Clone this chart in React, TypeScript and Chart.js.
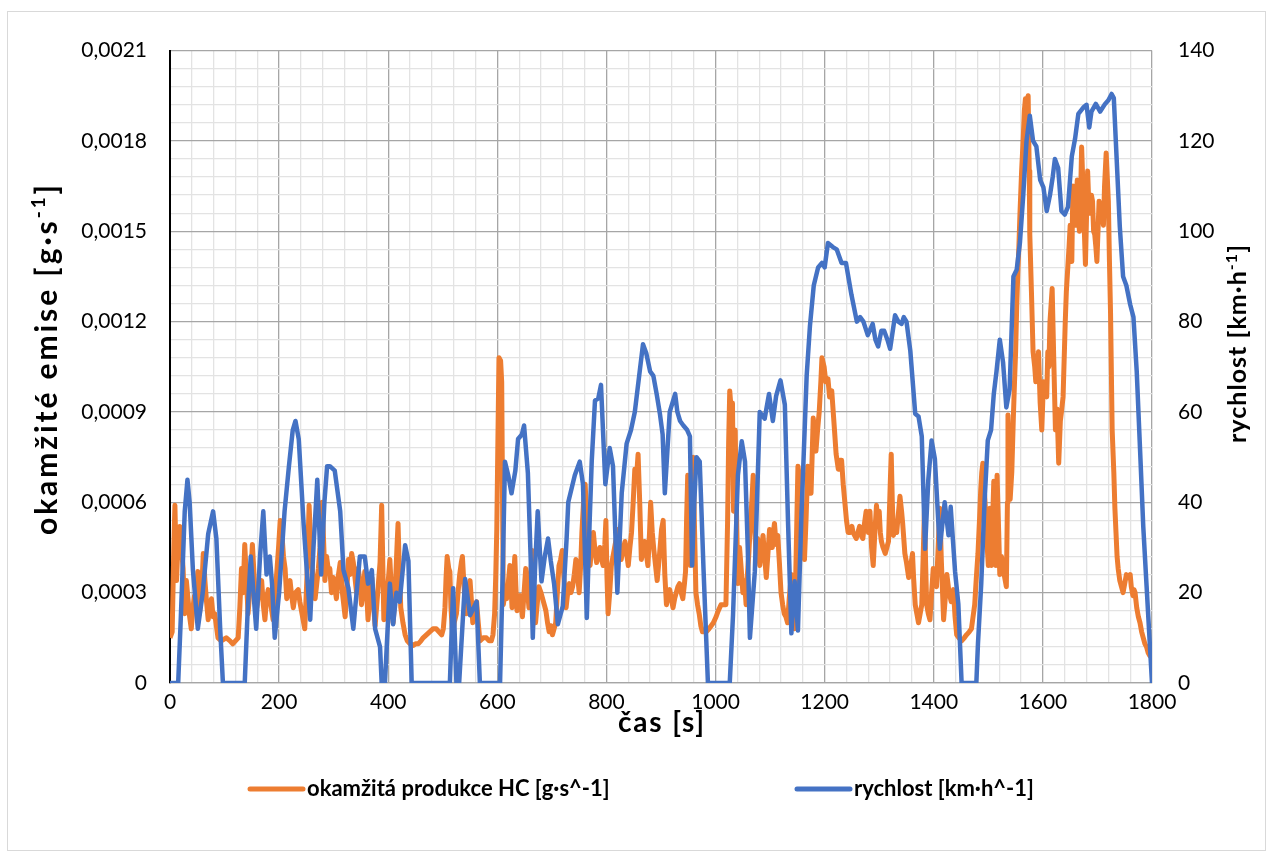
import React, { useEffect, useRef } from "react";
import { Chart, registerables } from "chart.js";

Chart.register(...registerables);

// ---------- data ----------
const hcTime = [
  0, 4, 7, 9, 12, 15, 18, 21, 24, 27, 30, 33, 36, 39, 42, 45, 48, 51, 54, 58, 61, 64, 67, 70, 73, 76, 79, 82, 85, 88,
  94, 103, 110, 115, 120, 125, 128, 131, 134, 137, 140, 143, 147, 151, 155, 159, 163, 168, 171, 174, 177, 180, 184, 189,
  192, 195, 199, 202, 205, 208, 211, 214, 217, 220, 223, 226, 230, 235, 238, 241, 244, 247, 251, 255, 257, 259, 262, 266,
  269, 272, 275, 279, 282, 284, 287, 290, 293, 296, 299, 302, 305, 308, 312, 316, 321, 324, 327, 330, 333, 336, 339, 342,
  345, 348, 351, 354, 357, 360, 363, 366, 370, 373, 376, 379, 382, 385, 388, 390, 392, 395, 398, 401, 403, 406, 409, 412,
  414, 416, 418, 420, 423, 427, 431, 435, 440, 446, 450, 455, 460, 464, 470, 476, 482, 488, 493, 498, 501, 504, 506, 508,
  511, 513, 515, 518, 521, 525, 528, 531, 534, 536, 539, 543, 546, 550, 553, 555, 558, 562, 565, 568, 574, 580, 585, 589,
  592, 595, 597, 599, 601, 603, 606, 608, 610, 611, 614, 617, 620, 623, 625, 627, 630, 632, 634, 636, 639, 642, 644, 646,
  649, 652, 655, 658, 661, 664, 667, 670, 673, 676, 680, 683, 686, 689, 692, 695, 698, 701, 704, 707, 710, 713, 716, 719,
  722, 726, 729, 732, 735, 738, 741, 744, 747, 750, 753, 755, 758, 761, 763, 765, 768, 770, 773, 776, 779, 782, 785, 788,
  791, 794, 797, 799, 801, 803, 806, 809, 812, 815, 818, 821, 824, 827, 830, 834, 837, 840, 843, 846, 849, 852, 855, 858,
  861, 864, 867, 870, 873, 876, 879, 881, 884, 887, 890, 893, 897, 901, 904, 907, 910, 913, 916, 919, 922, 925, 928, 931,
  934, 937, 940, 943, 945, 947, 949, 952, 954, 957, 959, 961, 964, 967, 970, 973, 976, 983, 988, 992, 996, 1001, 1005,
  1010, 1015, 1019, 1022, 1024, 1026, 1029, 1031, 1033, 1036, 1038, 1041, 1044, 1047, 1050, 1053, 1056, 1058, 1061, 1063,
  1065, 1067, 1069, 1071, 1074, 1077, 1081, 1084, 1087, 1090, 1093, 1096, 1099, 1102, 1104, 1106, 1108, 1111, 1114, 1117,
  1120, 1123, 1126, 1129, 1132, 1135, 1139, 1142, 1145, 1148, 1151, 1154, 1157, 1160, 1163, 1166, 1169, 1172, 1175, 1177,
  1179, 1182, 1184, 1187, 1190, 1193, 1195, 1199, 1202, 1206, 1209, 1213, 1218, 1221, 1225, 1228, 1231, 1234, 1237, 1240,
  1243, 1247, 1250, 1252, 1255, 1258, 1261, 1264, 1267, 1270, 1273, 1276, 1280, 1283, 1286, 1289, 1292, 1295, 1298, 1300,
  1302, 1304, 1307, 1311, 1314, 1317, 1320, 1322, 1324, 1326, 1329, 1332, 1335, 1338, 1341, 1343, 1345, 1347, 1350, 1354,
  1357, 1361, 1363, 1366, 1369, 1372, 1375, 1378, 1381, 1383, 1385, 1387, 1390, 1393, 1396, 1399, 1402, 1405, 1408, 1411,
  1414, 1418, 1421, 1424, 1428, 1432, 1436, 1439, 1442, 1446, 1451, 1456, 1460, 1465, 1469, 1472, 1475, 1478, 1481, 1484,
  1486, 1488, 1490, 1493, 1496, 1498, 1500, 1503, 1506, 1508, 1510, 1512, 1514, 1516, 1519, 1521, 1524, 1527, 1530, 1533,
  1535, 1536, 1538, 1540, 1543, 1546, 1548, 1550, 1552, 1554, 1556, 1558, 1561, 1564, 1566, 1568, 1571, 1573, 1575, 1576,
  1579, 1582, 1585, 1587, 1590, 1592, 1595, 1598, 1601, 1604, 1607, 1609, 1611, 1613, 1617, 1620, 1623, 1626, 1629, 1632,
  1634, 1637, 1641, 1643, 1646, 1648, 1650, 1653, 1655, 1657, 1659, 1661, 1663, 1665, 1667, 1669, 1671, 1674, 1676, 1678,
  1680, 1682, 1684, 1686, 1689, 1691, 1693, 1695, 1697, 1699, 1701, 1703, 1705, 1707, 1709, 1711, 1713, 1716, 1718, 1720,
  1722, 1724, 1727, 1730, 1732, 1734, 1736, 1738, 1741, 1744, 1747, 1750, 1753, 1756, 1760, 1762, 1765, 1767, 1769, 1772,
  1775, 1778, 1781, 1784, 1787, 1790, 1793, 1796, 1800,
];

const hcValues = [
  0.00015, 0.00017, 0.00045, 0.00059, 0.00034, 0.00048, 0.00052, 0.00045, 0.00038, 0.00023, 0.00034, 0.00028, 0.00022,
  0.00018, 0.00025, 0.00029, 0.00026, 0.00037, 0.00023, 0.0003, 0.00043, 0.00034, 0.00027, 0.00021, 0.00025, 0.00028,
  0.00022, 0.00023, 0.00019, 0.00015, 0.00014, 0.00015, 0.00014, 0.00013, 0.00014, 0.00015, 0.00025, 0.00038, 0.0003,
  0.00046, 0.00035, 0.00023, 0.00032, 0.00046, 0.00033, 0.00025, 0.0003, 0.00034, 0.00026, 0.00021, 0.00028, 0.00031,
  0.00027, 0.00021, 0.00028, 0.00035, 0.00045, 0.00054, 0.0005, 0.00042, 0.00038, 0.00028, 0.00032, 0.00034, 0.00029,
  0.00025, 0.0003, 0.00031, 0.00027, 0.00024, 0.00021, 0.00018, 0.00035, 0.00059, 0.0005, 0.00043, 0.00035, 0.00028,
  0.00033, 0.00038, 0.00045, 0.0006, 0.00045, 0.00034, 0.00042, 0.00038, 0.00038, 0.0003, 0.00035, 0.00032, 0.00028,
  0.00035, 0.0004, 0.0003, 0.00022, 0.0003, 0.00041, 0.00036, 0.00043, 0.0004, 0.00035, 0.0003, 0.00038, 0.00034,
  0.00026, 0.0003, 0.00037, 0.00032, 0.00021, 0.00028, 0.00035, 0.00026, 0.00019, 0.00026, 0.00033, 0.0004, 0.00059,
  0.0004, 0.00021, 0.00026, 0.0003, 0.00036, 0.00041, 0.0003, 0.0002, 0.00028, 0.00036, 0.00045, 0.00053, 0.0004,
  0.00025, 0.0002, 0.00016, 0.00014, 0.00013, 0.000125, 0.00013, 0.00013, 0.00014, 0.00015, 0.00016, 0.00017, 0.00018,
  0.00018, 0.00017, 0.00016, 0.00018, 0.00025, 0.00035, 0.00042, 0.00038, 0.00037, 0.00025, 0.00016, 0.0002, 0.00023,
  0.0003, 0.00036, 0.0004, 0.00042, 0.00032, 0.00023, 0.0003, 0.00034, 0.00026, 0.0002, 0.00024, 0.00027, 0.0002,
  0.00014, 0.00015, 0.00015, 0.00014, 0.00014, 0.00016, 0.00023, 0.00035, 0.00051, 0.0008, 0.00108, 0.00107, 0.001,
  0.0005, 0.00026, 0.0003, 0.00028, 0.00033, 0.00039, 0.00032, 0.00025, 0.00035, 0.00042, 0.00032, 0.00024, 0.00027,
  0.00029, 0.00025, 0.00022, 0.0003, 0.00038, 0.00031, 0.00025, 0.00035, 0.00044, 0.0003, 0.0002, 0.00026, 0.00032,
  0.0003, 0.00028, 0.00026, 0.00024, 0.0002, 0.00017, 0.00019, 0.00016, 0.00018, 0.0002, 0.0003, 0.00039, 0.00041,
  0.00044, 0.00035, 0.00025, 0.0003, 0.00033, 0.0003, 0.00032, 0.00036, 0.00041, 0.00036, 0.0003, 0.0004, 0.0005,
  0.0006, 0.00066, 0.00058, 0.0005, 0.00044, 0.00039, 0.00045, 0.0005, 0.00044, 0.0004, 0.00043, 0.00045, 0.00041,
  0.00039, 0.00046, 0.00054, 0.00035, 0.00023, 0.0003, 0.00039, 0.00042, 0.00045, 0.00048, 0.00051, 0.00045, 0.00041,
  0.00044, 0.00047, 0.00043, 0.00039, 0.00045, 0.0005, 0.0006, 0.00071, 0.00068, 0.00076, 0.0006, 0.00041, 0.00044,
  0.00047, 0.00043, 0.00039, 0.0005, 0.0006, 0.0005, 0.00044, 0.00039, 0.00034, 0.00042, 0.00051, 0.00054, 0.00036,
  0.00026, 0.00029, 0.00031, 0.00028, 0.00025, 0.00028, 0.0003, 0.00032, 0.00033, 0.0003, 0.00028, 0.00033, 0.00037,
  0.00055, 0.00069, 0.0005, 0.00039, 0.0006, 0.00075, 0.00055, 0.0003, 0.00026, 0.00023, 0.00019, 0.00017, 0.00017,
  0.00018, 0.00019, 0.0002, 0.00022, 0.00024, 0.00026, 0.00026, 0.00026, 0.00053, 0.0008, 0.00097, 0.0009, 0.00093,
  0.00057, 0.00084, 0.0006, 0.00033, 0.00045, 0.00038, 0.0003, 0.00034, 0.00026, 0.00035, 0.00043, 0.0005, 0.00056,
  0.00062, 0.00069, 0.00055, 0.00043, 0.00048, 0.00039, 0.00044, 0.00049, 0.00042, 0.00035, 0.00043, 0.00051, 0.00048,
  0.00045, 0.0005, 0.00053, 0.00046, 0.00049, 0.0004, 0.0003, 0.00026, 0.00023, 0.00022, 0.0002, 0.00028, 0.00036,
  0.00027, 0.00018, 0.00045, 0.00072, 0.00068, 0.00062, 0.0005, 0.00041, 0.00055, 0.00072, 0.00068, 0.00063, 0.00075,
  0.00088, 0.00082, 0.00077, 0.00084, 0.0009, 0.001, 0.00108, 0.00105, 0.001, 0.00101, 0.00095, 0.00097, 0.00084,
  0.00076, 0.00071, 0.00074, 0.00074, 0.00066, 0.0006, 0.00054, 0.0005, 0.0005, 0.00052, 0.0005, 0.00049, 0.00048,
  0.0005, 0.00052, 0.00049, 0.00048, 0.00053, 0.00057, 0.0005, 0.00057, 0.00045, 0.00039, 0.0005, 0.00059, 0.00052,
  0.00057, 0.0005, 0.00047, 0.00045, 0.00043, 0.00045, 0.00047, 0.00065, 0.00076, 0.0006, 0.00049, 0.00051, 0.0005,
  0.00056, 0.00062, 0.00057, 0.00053, 0.00048, 0.00043, 0.0004, 0.00035, 0.00038, 0.00043, 0.00035, 0.00026, 0.00023,
  0.0002, 0.00023, 0.00026, 0.00045, 0.00058, 0.0004, 0.00026, 0.00023, 0.00021, 0.0003, 0.00038, 0.00034, 0.00032,
  0.00045, 0.00058, 0.0004, 0.00021, 0.00028, 0.00036, 0.0003, 0.00027, 0.00031, 0.00022, 0.00016, 0.00015, 0.00014,
  0.00015, 0.00016, 0.00017, 0.00018, 0.00022, 0.00026, 0.00035, 0.00043, 0.00055, 0.00064, 0.0007, 0.00073, 0.00063,
  0.00054, 0.00045, 0.00039, 0.00058, 0.00039, 0.00055, 0.00067, 0.0005, 0.00039, 0.00069, 0.0005, 0.00036, 0.00042,
  0.00039, 0.00035, 0.00032, 0.0006, 0.00089, 0.00075, 0.00061, 0.0007, 0.00089, 0.001, 0.0011, 0.00125, 0.00136,
  0.00145, 0.00156, 0.0017, 0.00181, 0.0019, 0.00194, 0.00193, 0.00195, 0.0017, 0.00149, 0.0013, 0.0011, 0.00105, 0.001,
  0.00105, 0.0011, 0.00093, 0.00084, 0.001, 0.00098, 0.00095, 0.0011, 0.00105, 0.0012, 0.00131, 0.00107, 0.00084,
  0.00091, 0.00073, 0.00087, 0.0009, 0.00095, 0.0012, 0.0013, 0.00139, 0.00145, 0.00152, 0.0014, 0.00165, 0.00155,
  0.00152, 0.0016, 0.00167, 0.00155, 0.0015, 0.0016, 0.00178, 0.00162, 0.0015, 0.00139, 0.00155, 0.0017, 0.0016, 0.00156,
  0.00162, 0.0016, 0.0015, 0.00149, 0.00145, 0.0014, 0.0015, 0.0016, 0.00155, 0.00158, 0.00155, 0.00152, 0.00165,
  0.00176, 0.00168, 0.0016, 0.0014, 0.00123, 0.00084, 0.0007, 0.00058, 0.0005, 0.00042, 0.00038, 0.00034, 0.00032,
  0.0003, 0.00033, 0.00036, 0.00035, 0.00036, 0.00032, 0.00029, 0.00031, 0.0003, 0.00025, 0.00022, 0.0002, 0.00017,
  0.00015, 0.00013, 0.00012, 0.0001, 0.00009, 0.00011,
];

const speedTime = [
  0, 15, 20, 27, 32, 36, 42, 51, 60, 70, 79, 85, 92, 97, 137, 142, 148, 153, 158, 165, 171, 177, 183, 187, 192, 200, 210,
  218, 225, 230, 236, 245, 257, 263, 270, 277, 283, 288, 293, 302, 312, 318, 327, 336, 348, 357, 363, 370, 376, 385, 388,
  394, 403, 409, 415, 421, 431, 437, 443, 513, 519, 525, 530, 541, 550, 562, 568, 605, 610, 614, 620, 626, 633, 638, 645,
  649, 656, 661, 665, 669, 674, 681, 687, 693, 698, 704, 711, 720, 727, 730, 736, 742, 751, 757, 764, 769, 773, 779, 785,
  790, 798, 806, 812, 820, 828, 837, 845, 852, 860, 867, 873, 880, 886, 892, 898, 903, 907, 912, 916, 926, 930, 935, 941,
  948, 953, 957, 961, 965, 971, 978, 986, 1026, 1032, 1041, 1048, 1054, 1059, 1063, 1072, 1081, 1090, 1098, 1105, 1111,
  1119, 1127, 1133, 1139, 1145, 1151, 1157, 1167, 1173, 1180, 1188, 1195, 1200, 1206, 1215, 1222, 1231, 1239, 1249, 1259,
  1265, 1271, 1279, 1288, 1293, 1298, 1304, 1309, 1315, 1320, 1329, 1335, 1341, 1345, 1350, 1357, 1366, 1372, 1378, 1384,
  1390, 1396, 1402, 1411, 1420, 1427, 1431, 1439, 1445, 1451, 1478, 1481, 1487, 1493, 1499, 1505, 1510, 1515, 1521, 1527,
  1533, 1539, 1546, 1552, 1558, 1564, 1570, 1576, 1582, 1588, 1595, 1601, 1607, 1613, 1618, 1622, 1628, 1634, 1640, 1646,
  1653, 1659, 1665, 1674, 1680, 1685, 1689, 1697, 1705, 1714, 1720, 1726, 1730, 1735, 1741, 1747, 1753, 1760, 1766, 1772,
  1778, 1784, 1790, 1800,
];

const speedValues = [
  0, 0, 15, 38, 45, 40, 25, 12, 20, 33, 38, 32, 12, 0, 0, 15, 28, 20, 12, 28, 38, 24, 28, 22, 10, 20, 38, 48, 56, 58, 54,
  35, 14, 30, 45, 24, 40, 48, 48, 47, 38, 25, 21, 12, 28, 28, 22, 25, 12, 8, 0, 0, 22, 13, 20, 18, 30.5, 27, 0, 0, 21, 0,
  0, 23, 15, 18, 0, 0, 25, 49, 46, 42, 47, 54, 55, 57, 46.5, 28, 10, 25, 38, 22.5, 28, 32, 27, 22, 13, 17, 32, 40, 43,
  46, 49, 44, 14.4, 35, 49, 62.5, 63, 66, 44, 52, 48, 20, 42, 53, 56, 60, 68, 75, 73, 69, 68, 64, 59.6, 55, 42, 52, 60,
  64, 60, 58, 57, 56, 54.6, 26, 40, 50, 49, 25, 0, 0, 15, 46, 53.5, 49, 30, 10, 24.7, 60, 58.5, 64, 58, 63.5, 67, 61.6,
  35, 11, 22.5, 11.6, 35.6, 68, 79, 88, 92, 93, 92, 97.4, 96.5, 96, 93, 93, 86, 80, 81, 80, 77, 79.5, 76, 74.5, 78, 78,
  76, 74, 81.4, 80, 79.5, 81, 80, 73.5, 59.6, 59, 54.6, 29.7, 45, 53.7, 49.6, 29.7, 40, 32.7, 39, 24.7, 17.5, 0, 0, 8.7,
  22, 40, 53.7, 56, 64, 69, 76, 71, 61, 65, 90, 91.5, 97.6, 108, 120, 125.6, 120, 118.8, 111.4, 109.7, 104.5, 108, 112,
  116, 114, 104.5, 103.7, 105.4, 116.6, 120.5, 126, 127.4, 128, 123, 126.5, 128.2, 126.5, 128.2, 129, 130.4, 129.5,
  116.6, 101, 90, 88, 83.8, 81, 69, 52, 34.6, 21.6, 0,
];

const xMajorStep = 200;
const xMinorStep = 40;
const xMax = 1800;
const hcMajorStep = 0.0003;
const hcMinorCount = 35; // 0 .. 0.0021 in steps of 0.00006
const hcMax = 0.0021;
const speedTicks = [0, 20, 40, 60, 80, 100, 120, 140];

const seriesHcLabel = "okamžitá produkce HC [g·s^-1]";
const seriesSpeedLabel = "rychlost [km·h^-1]";
const xTitle = "čas [s]";

const ORANGE = "#ED7D31";
const BLUE = "#4472C4";
const FONT = "Lato, 'Open Sans', sans-serif";

function drawRich(
  ctx: CanvasRenderingContext2D,
  parts: { t: string; sup?: boolean }[],
  size: number,
  cx: number,
  cy: number,
  rot: number,
  target: number
) {
  const c = ctx as any;
  ctx.save();
  ctx.translate(cx, cy);
  ctx.rotate(rot);
  ctx.fillStyle = "#000";
  ctx.textAlign = "left";
  ctx.textBaseline = "alphabetic";
  c.letterSpacing = "0px";
  const fonts = parts.map((p) => `bold ${p.sup ? Math.round(size * 0.62) : size}px ${FONT}`);
  let total = 0;
  let nChars = 0;
  const widths = parts.map((p, i) => {
    ctx.font = fonts[i];
    const w = ctx.measureText(p.t).width;
    total += w;
    nChars += Array.from(p.t).length;
    return w;
  });
  const sp = Math.max(0, (target - total) / Math.max(1, nChars - 1));
  const full = total + sp * (nChars - 1);
  let x = -full / 2;
  parts.forEach((p, i) => {
    ctx.font = fonts[i];
    c.letterSpacing = `${sp}px`;
    ctx.fillText(p.t, x, size * 0.36 - (p.sup ? size * 0.38 : 0));
    x += widths[i] + sp * Array.from(p.t).length;
  });
  c.letterSpacing = "0px";
  ctx.restore();
}

const overlayPlugin = {
  id: "overlay",
  afterDraw(chart: any) {
    const { ctx, chartArea } = chart;
    // axis titles
    drawRich(ctx, [{ t: "okamžité emise [g·s" }, { t: "-1", sup: true }, { t: "]" }], 30, 38, 348, -Math.PI / 2, 350);
    drawRich(ctx, [{ t: "rychlost [km·h" }, { t: "-1", sup: true }, { t: "]" }], 25, 1229, 332, -Math.PI / 2, 198);
    drawRich(ctx, [{ t: xTitle }], 28, (chartArea.left + chartArea.right) / 2, 710, 0, 86);

    // legend
    const ly = 777;
    const items = [
      { color: ORANGE, label: seriesHcLabel, x: 242 },
      { color: BLUE, label: seriesSpeedLabel, x: 789 },
    ];
    ctx.save();
    items.forEach((it) => {
      ctx.strokeStyle = it.color;
      ctx.lineWidth = 5;
      ctx.lineCap = "round";
      ctx.beginPath();
      ctx.moveTo(it.x, ly);
      ctx.lineTo(it.x + 53, ly);
      ctx.stroke();
      ctx.fillStyle = "#000";
      ctx.font = `bold 22px ${FONT}`;
      ctx.textAlign = "left";
      ctx.textBaseline = "middle";
      ctx.fillText(it.label, it.x + 57, ly);
    });
    ctx.restore();
  },
};

export default function App() {
  const ref = useRef<HTMLCanvasElement>(null);

  useEffect(() => {
    const canvas = ref.current;
    if (!canvas) return;

    const hcData = hcTime.map((t, i) => ({ x: t, y: hcValues[i] }));
    const speedData = speedTime.map((t, i) => ({ x: t, y: speedValues[i] }));

    const xTicks: number[] = [];
    for (let v = 0; v <= xMax; v += xMinorStep) xTicks.push(v);
    const yTicks: number[] = [];
    for (let k = 0; k <= hcMinorCount; k++) yTicks.push((k * hcMax) / hcMinorCount);

    const gridColorX = (c: any) => (c.tick && Math.round(c.tick.value) % xMajorStep === 0 ? "#a6a6a6" : "#e3e3e3");
    const gridColorY = (c: any) =>
      c.tick && Math.round(c.tick.value / (hcMax / hcMinorCount)) % 5 === 0 ? "#a6a6a6" : "#e3e3e3";

    const chart = new Chart(canvas, {
      type: "line",
      data: {
        datasets: [
          {
            label: seriesHcLabel,
            data: hcData,
            borderColor: ORANGE,
            backgroundColor: ORANGE,
            borderWidth: 5,
            pointRadius: 0,
            tension: 0,
            yAxisID: "y",
            order: 1,
            borderJoinStyle: "round",
          },
          {
            label: seriesSpeedLabel,
            data: speedData,
            borderColor: BLUE,
            backgroundColor: BLUE,
            borderWidth: 4.5,
            pointRadius: 0,
            tension: 0,
            yAxisID: "y2",
            order: 0,
            borderJoinStyle: "round",
          },
        ],
      },
      options: {
        animation: false,
        responsive: true,
        maintainAspectRatio: false,
        layout: { padding: { top: 30, left: 0, right: 0, bottom: 0 } },
        plugins: {
          legend: { display: false },
          tooltip: { enabled: false },
          title: { display: false },
        },
        scales: {
          x: {
            type: "linear",
            min: 0,
            max: xMax,
            afterBuildTicks: (scale: any) => {
              scale.ticks = xTicks.map((v) => ({ value: v }));
            },
            afterFit: (scale: any) => {
              scale.height = 167;
            },
            grid: { color: gridColorX, lineWidth: 1.3, drawTicks: false },
            border: { display: true, color: "#a6a6a6", width: 1.3 },
            ticks: {
              autoSkip: false,
              maxRotation: 0,
              padding: 7,
              color: "#000",
              font: { family: FONT, size: 21 },
              callback: (v: any) => (Math.round(v) % xMajorStep === 0 ? String(v) : ""),
            },
          },
          y: {
            type: "linear",
            position: "left",
            min: 0,
            max: hcMax,
            afterBuildTicks: (scale: any) => {
              scale.ticks = yTicks.map((v) => ({ value: v }));
            },
            afterFit: (scale: any) => {
              scale.width = 162;
            },
            grid: { color: gridColorY, lineWidth: 1.3, drawTicks: false },
            border: { display: true, color: "#000", width: 2 },
            ticks: {
              autoSkip: false,
              padding: 23,
              color: "#000",
              font: { family: FONT, size: 21 },
              callback: (v: any) => {
                const k = Math.round(v / (hcMax / hcMinorCount));
                if (k % 5 !== 0) return "";
                if (k === 0) return "0";
                return ((k / 5) * hcMajorStep).toFixed(4).replace(".", ",");
              },
            },
          },
          y2: {
            type: "linear",
            position: "right",
            min: 0,
            max: 140,
            afterBuildTicks: (scale: any) => {
              scale.ticks = speedTicks.map((v) => ({ value: v }));
            },
            afterFit: (scale: any) => {
              scale.width = 113;
            },
            grid: { display: false, drawTicks: false },
            border: { display: false },
            ticks: {
              autoSkip: false,
              padding: 26,
              color: "#000",
              font: { family: FONT, size: 21 },
              callback: (v: any) => String(v),
            },
          },
        },
      },
      plugins: [overlayPlugin],
    } as any);

    return () => chart.destroy();
  }, []);

  return (
    <div
      style={{
        position: "absolute",
        left: 7,
        top: 11,
        width: 1259,
        height: 840,
        border: "1px solid #d9d9d9",
        boxSizing: "border-box",
        background: "#fff",
      }}
    >
      <div style={{ position: "relative", width: 1257, height: 838 }}>
        <canvas ref={ref} />
      </div>
    </div>
  );
}
